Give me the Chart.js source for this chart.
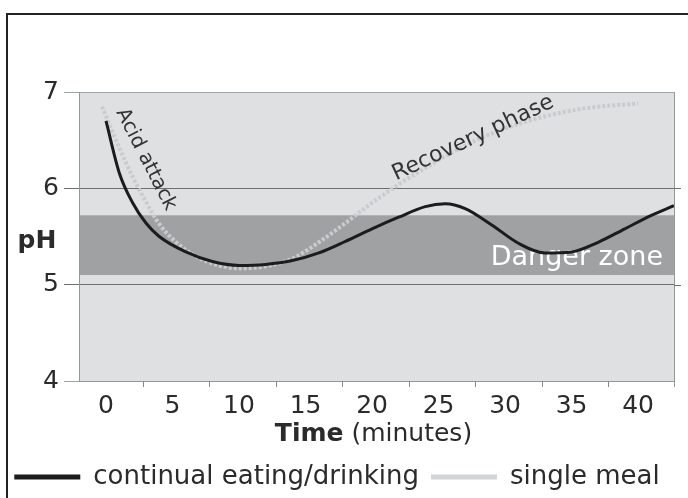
<!DOCTYPE html>
<html>
<head>
<meta charset="utf-8">
<script src="https://cdn.jsdelivr.net/npm/chart.js@4.4.1/dist/chart.umd.min.js"></script>
<style>
    html, body { margin: 0; padding: 0; background: #fff; }
    #wrap { width: 688px; height: 498px; position: relative; }
</style>
</head>
<body>
<div id="wrap"><canvas id="chart"></canvas></div>
<script>
const FONT = "'DejaVu Sans', sans-serif";
const TEXT = "#2b2b2b";

// time in minutes / pH readings
const continualTimes = [0, 1, 2, 3, 4, 6, 8, 10, 12, 14, 16, 18, 20, 22, 24, 25.5, 27, 29, 31, 33, 35, 37, 39, 41, 42.7];
const continualPH = [6.70, 6.16, 5.85, 5.64, 5.50, 5.34, 5.24, 5.20, 5.21, 5.25, 5.33, 5.45, 5.58, 5.70, 5.81, 5.84, 5.79, 5.62, 5.43, 5.33, 5.34, 5.44, 5.58, 5.72, 5.82];

const mealTimes = [-0.3, 1, 2, 3, 4, 6, 8, 10, 12, 14, 16, 18, 20, 22, 24, 26, 28, 30, 32, 34, 36, 38, 40];
const mealPH = [6.85, 6.42, 6.12, 5.86, 5.63, 5.36, 5.22, 5.17, 5.19, 5.27, 5.44, 5.64, 5.85, 6.04, 6.21, 6.37, 6.51, 6.62, 6.71, 6.78, 6.83, 6.86, 6.88];

const timeLabels = [0, 5, 10, 15, 20, 25, 30, 35, 40];
const timeTickMarks = [2.75, 7.75, 12.75, 17.75, 22.75, 27.75, 32.75, 37.75];
const phLabels = [4, 5, 6, 7];
const dangerZone = [5.1, 5.72];

const toPoints = (xs, ys) => xs.map((x, i) => ({ x, y: ys[i] }));

const decorations = {
    id: "decorations",
    beforeDraw(chart) {
        const { ctx, chartArea: a } = chart;
        const y = chart.scales.y;
        ctx.save();
        // frame
        ctx.strokeStyle = "#222";
        ctx.lineWidth = 2;
        ctx.beginPath();
        ctx.moveTo(7, 498);
        ctx.lineTo(7, 14);
        ctx.lineTo(688, 14);
        ctx.stroke();
        // plot background
        ctx.fillStyle = "#dfe0e1";
        ctx.fillRect(a.left, a.top, a.right - a.left, a.bottom - a.top);
        // danger band
        const top = y.getPixelForValue(dangerZone[1]);
        const bottom = y.getPixelForValue(dangerZone[0]);
        ctx.fillStyle = "#9fa1a2";
        ctx.fillRect(a.left, top, a.right - a.left, bottom - top);
        ctx.restore();
    },
    beforeDatasetsDraw(chart) {
        const { ctx, chartArea: a } = chart;
        const x = chart.scales.x;
        const y = chart.scales.y;
        ctx.save();
        // right edge
        ctx.strokeStyle = "#8e9a9a";
        ctx.lineWidth = 1;
        ctx.beginPath();
        ctx.moveTo(a.right + 0.5, a.top);
        ctx.lineTo(a.right + 0.5, a.bottom + 6);
        ctx.stroke();
        // grid stubs to the right
        ctx.strokeStyle = "#6f6f6f";
        [5, 6].forEach(v => {
            const py = Math.round(y.getPixelForValue(v)) + 0.5;
            ctx.beginPath();
            ctx.moveTo(a.right, py);
            ctx.lineTo(a.right + 7, py);
            ctx.stroke();
        });
        // tick marks between labels
        ctx.strokeStyle = "#888";
        timeTickMarks.forEach(v => {
            const px = Math.round(x.getPixelForValue(v)) + 0.5;
            ctx.beginPath();
            ctx.moveTo(px, a.bottom);
            ctx.lineTo(px, a.bottom + 6);
            ctx.stroke();
        });
        // danger zone text
        ctx.fillStyle = "#fff";
        ctx.font = "27px " + FONT;
        ctx.textAlign = "right";
        ctx.textBaseline = "middle";
        ctx.fillText("Danger zone", a.right - 11, y.getPixelForValue(5.28));
        ctx.restore();
    },
    afterDraw(chart) {
        const { ctx, chartArea: a } = chart;
        const x = chart.scales.x;
        const y = chart.scales.y;
        ctx.save();
        ctx.fillStyle = "#333";
        ctx.textBaseline = "middle";
        ctx.textAlign = "center";
        // rotated annotations
        ctx.font = "20px " + FONT;
        ctx.save();
        ctx.translate(x.getPixelForValue(3.0), y.getPixelForValue(6.3));
        ctx.rotate(63 * Math.PI / 180);
        ctx.fillText("Acid attack", 0, 0);
        ctx.restore();
        ctx.font = "22px " + FONT;
        ctx.save();
        ctx.translate(x.getPixelForValue(27.6), y.getPixelForValue(6.52));
        ctx.rotate(-25 * Math.PI / 180);
        ctx.fillText("Recovery phase", 0, 0);
        ctx.restore();
        // y title
        ctx.fillStyle = TEXT;
        ctx.font = "bold 25px " + FONT;
        ctx.fillText("pH", 37, y.getPixelForValue(5.45));
        // x title, "Time" in bold
        ctx.textAlign = "left";
        const bold = "bold 25px " + FONT;
        const normal = "25px " + FONT;
        ctx.font = bold;
        const w1 = ctx.measureText("Time").width;
        ctx.font = normal;
        const w2 = ctx.measureText(" (minutes)").width;
        const start = (a.left + a.right) / 2 - (w1 + w2) / 2 - 3;
        const ty = a.bottom + 53;
        ctx.font = bold;
        ctx.fillText("Time", start, ty);
        ctx.font = normal;
        ctx.fillText(" (minutes)", start + w1, ty);
        ctx.restore();
    }
};

new Chart(document.getElementById("chart"), {
    type: "line",
    data: {
        datasets: [
            {
                label: "continual eating/drinking",
                data: toPoints(continualTimes, continualPH),
                borderColor: "#1c1c1c",
                borderWidth: 3,
                pointRadius: 0,
                cubicInterpolationMode: "monotone",
                fill: false,
                order: 0,
                legendColor: "#1c1c1c"
            },
            {
                label: "single meal",
                data: toPoints(mealTimes, mealPH),
                borderColor: "#c8cccf",
                borderWidth: 4,
                borderDash: [3, 2],
                pointRadius: 0,
                cubicInterpolationMode: "monotone",
                fill: false,
                order: 1,
                legendColor: "#d2d4d6"
            }
        ]
    },
    options: {
        responsive: true,
        maintainAspectRatio: false,
        animation: false,
        layout: { padding: { left: 0, right: 14, top: 92, bottom: -2 } },
        plugins: {
            tooltip: { enabled: false },
            legend: {
                position: "bottom",
                labels: {
                    boxWidth: 66,
                    boxHeight: 5,
                    padding: 12,
                    color: TEXT,
                    font: { family: FONT, size: 26 },
                    generateLabels: chart => chart.data.datasets.map((ds, i) => ({
                        text: ds.label,
                        fillStyle: ds.legendColor,
                        strokeStyle: ds.legendColor,
                        lineWidth: 0,
                        fontColor: TEXT,
                        datasetIndex: i
                    }))
                }
            }
        },
        scales: {
            x: {
                type: "linear",
                min: -2.03,
                max: 42.7,
                grid: { display: false },
                border: { color: "#8e9a9a" },
                afterBuildTicks: scale => {
                    scale.ticks = timeLabels.map(v => ({ value: v }));
                },
                afterFit: scale => { scale.height = 71; },
                ticks: {
                    padding: 2,
                    color: TEXT,
                    font: { family: FONT, size: 25 }
                }
            },
            y: {
                min: 4,
                max: 7,
                afterBuildTicks: scale => {
                    scale.ticks = phLabels.map(v => ({ value: v }));
                },
                afterFit: scale => { scale.width = 79; },
                grid: {
                    tickLength: 15,
                    color: ctx => (ctx.tick && (ctx.tick.value === 7 || ctx.tick.value === 4)) ? "#9aa5a5" : "#6f6f6f"
                },
                border: { color: "#8e9a9a" },
                ticks: {
                    padding: 5,
                    color: TEXT,
                    font: { family: FONT, size: 25 }
                }
            }
        }
    },
    plugins: [decorations]
});
</script>
</body>
</html>
